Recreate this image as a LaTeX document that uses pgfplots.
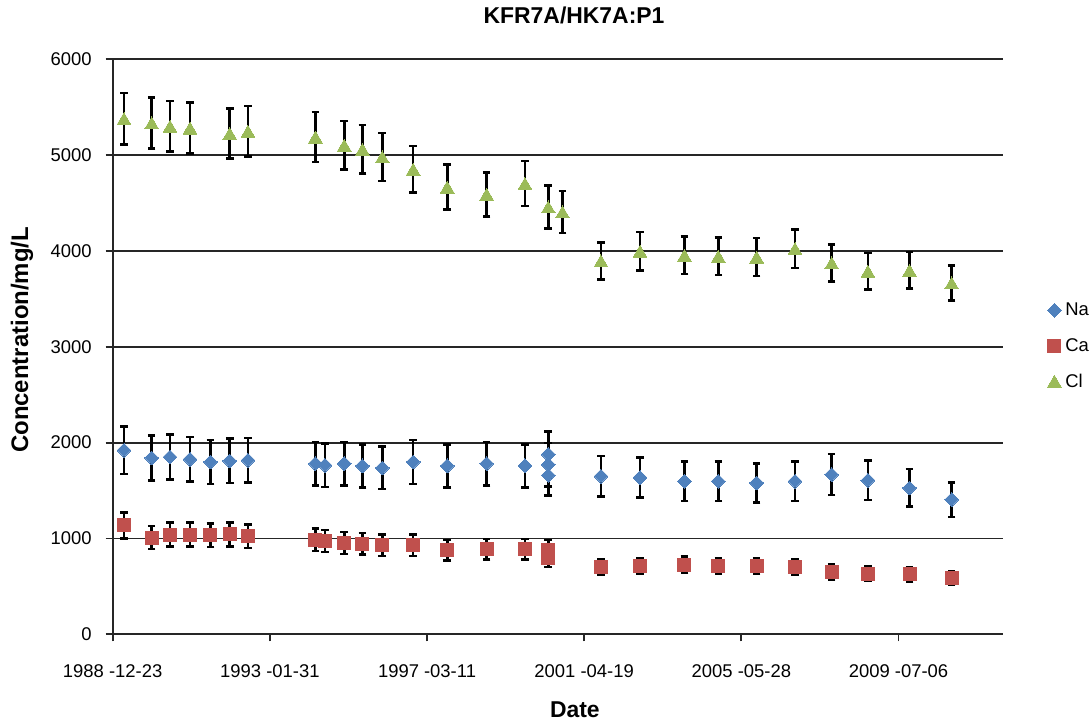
\documentclass[border=0pt]{standalone}
\usepackage{pgfplots}
\pgfplotsset{compat=1.18}
\usepackage{fontspec}
\setmainfont{Liberation Sans}
\definecolor{naC}{HTML}{4F81BD}
\definecolor{caC}{HTML}{C0504D}
\definecolor{clC}{HTML}{9BBB59}
\pgfplotstableread{
x y
108 1920
372 1840
547 1850
738 1826
933 1798
1117 1809
1291 1816
1935 1781
2026 1764
2210 1781
2384 1757
2573 1736
2868 1798
3193 1757
3569 1781
3935 1757
4157 1878
4157 1771
4157 1659
4660 1649
5033 1635
5457 1597
5780 1597
6146 1579
6512 1597
6862 1666
7208 1607
7605 1527
8007 1406
}\naData
\pgfplotstableread{
x y
108 1137
372 1009
547 1040
738 1040
933 1033
1117 1043
1291 1023
1935 988
2026 974
2210 953
2384 946
2573 929
2868 929
3193 877
3569 887
3935 887
4157 880
4157 840
4157 800
4660 702
5033 713
5457 727
5780 713
6146 713
6512 702
6862 650
7208 633
7605 626
8007 592
}\caData
\pgfplotstableread{
x y
108 5381
372 5336
547 5301
738 5283
1117 5225
1291 5249
1935 5189
2210 5103
2384 5061
2573 4981
2868 4852
3193 4667
3569 4591
3935 4703
4157 4459
4293 4407
4660 3896
5033 3997
5457 3955
5780 3944
6146 3937
6512 4025
6862 3875
7208 3788
7605 3798
8007 3666
}\clData
\begin{document}
\begin{tikzpicture}
\begin{axis}[
  at={(0,0)}, anchor=south west,
  scale only axis, width=890.6bp, height=575bp,
  xmin=0, xmax=8500, ymin=0, ymax=6000,
  axis lines*=left,
  axis line style={line width=1.8bp, black!85},
  xtick={0,1500,3000,4500,6000,7500},
  xticklabels={1988 -12-23, 1993 -01-31, 1997 -03-11, 2001 -04-19, 2005 -05-28, 2009 -07-06},
  ytick={0,1000,2000,3000,4000,5000,6000},
  tick align=outside, major tick length=7bp,
  tick style={line width=1.8bp, black!85},
  ymajorgrids, grid style={line width=1.8bp, black!85},
  /pgf/number format/assume math mode=true,
  /pgf/number format/set thousands separator={},
  ticklabel style={font=\fontsize{18.5}{20}\selectfont},
  yticklabel style={xshift=-10.5bp},
  xticklabel style={yshift=-20bp},
  title={KFR7A/HK7A:P1},
  title style={font=\bfseries\fontsize{23}{25}\selectfont, at={(0.518,1.0654)}, anchor=center},
  xlabel={Date},
  xlabel style={font=\bfseries\fontsize{23}{25}\selectfont, at={(0.519,-0.1317)}, anchor=center},
  ylabel={Concentration/mg/L},
  ylabel style={font=\bfseries\fontsize{24}{26}\selectfont, at={(-0.1018,0.512)}, anchor=center},
  legend style={at={(1,0.5016)}, anchor=west, xshift=44bp, draw=none, fill=none, inner sep=0pt,
    font=\fontsize{18.5}{20}\selectfont, row sep=21bp,
    nodes={inner sep=0bp},
    /tikz/every odd column/.append style={column sep=4bp}},
  legend cell align=left,
  legend image code/.code={\path (-6bp,0bp) (6bp,0bp); \draw[#1] plot coordinates {(0bp,0bp)};},
  ebar/.style={forget plot, draw=none, mark=none,
    error bars/.cd, y dir=both, y fixed relative=#1,
    error bar style={line width=2.5bp, black},
    error mark options={rotate=90, line width=2.5bp, black, mark size=3.8bp}},
]
% error bars first (behind the markers)
\addplot[ebar=0.128] table {\naData};
\addplot[ebar=0.12] table {\caData};
\addplot[ebar=0.05] table {\clData};
% markers
\addplot[only marks, mark=square*, mark size=4.9bp, mark options={rotate=45, fill=naC, draw=naC, line width=0pt}] table {\naData};
\addlegendentry{Na}
\addplot[only marks, mark=square*, mark size=6.5bp, mark options={fill=caC, draw=caC, line width=0pt}] table {\caData};
\addlegendentry{Ca}
\addplot[only marks, mark=triangle*, mark size=8bp, mark options={fill=clC, draw=clC, line width=0pt, yshift=-2bp}] table {\clData};
\addlegendentry{Cl}
\end{axis}
\pgfresetboundingbox
\path[use as bounding box] (-112.7bp,-87.7bp) rectangle (979.3bp,634.3bp);
\end{tikzpicture}
\end{document}
